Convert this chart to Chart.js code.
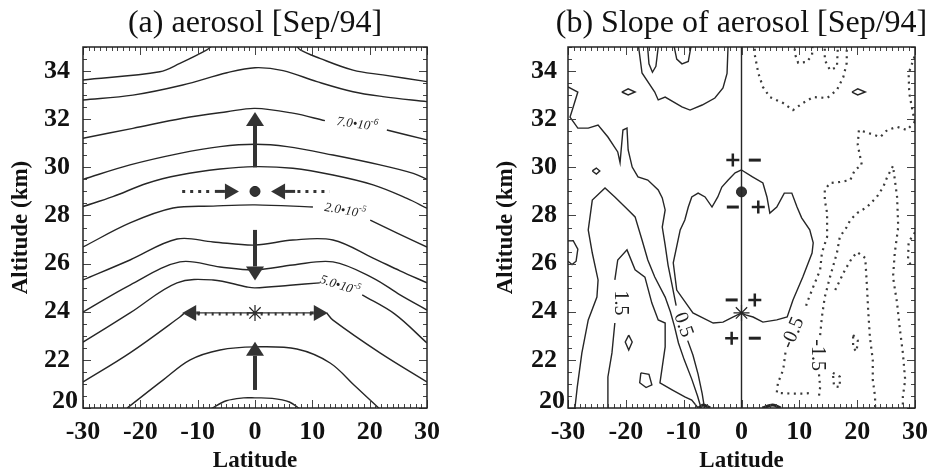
<!DOCTYPE html>
<html>
<head>
<meta charset="utf-8">
<script src="https://cdn.jsdelivr.net/npm/chart.js@4.4.1/dist/chart.umd.min.js"></script>
<style>
  html, body { margin: 0; padding: 0; background: #fff; }
  #wrap { position: relative; width: 933px; height: 475px; overflow: hidden; }
  canvas { position: absolute; top: 0; }
  #ca { left: 0; }
  #cb { left: 466px; }
</style>
</head>
<body>
<div id="wrap">
  <canvas id="ca" width="466" height="475"></canvas>
  <canvas id="cb" width="467" height="475"></canvas>
</div>
<script>
const SERIF = '"Liberation Serif", "Times New Roman", serif';

// axis ticks
const latTicks = [-30, -20, -10, 0, 10, 20, 30];
const altTicks = [20, 22, 24, 26, 28, 30, 32, 34];

// ---- panel (a): aerosol contours [lat, alt] ----
const aC1 = [[-30,33.63],[-16.6,33.97],[-13.1,34.32],[-8.4,34.88],[-6.5,35.2],[6.5,35.2],[7.9,34.88],[11.3,34.53],[17.1,34.04],[22.3,33.84],[30,33.56]];
const aC2 = [[-30,32.80],[-21.3,33.0],[-12.6,33.42],[-4.9,33.93],[0,34.14],[4.9,34.02],[10.8,33.56],[17.1,33.14],[22.3,32.94],[30,32.73]];
const aC3a = [[-30,31.21],[-21.3,31.62],[-12.6,32.04],[-4.9,32.31],[0,32.45],[6.6,32.25],[12.2,31.94]];
const aC3b = [[23.0,31.55],[30,31.14]];
const aC4 = [[-30,29.5],[-21.8,30.1],[-13.1,30.58],[-6.1,30.86],[0,30.96],[5.6,30.86],[13.6,30.51],[21.8,30.10],[27.6,29.75],[30,29.5]];
const aC5 = [[-30,28.37],[-24.8,28.78],[-18.8,29.34],[-13.1,29.68],[-6.1,29.93],[0,30.03],[6.6,29.96],[13.6,29.68],[20.6,29.27],[26.5,28.71],[30,28.30]];
const aC6a = [[-30,26.69],[-21.8,27.69],[-14.3,28.31],[-7.3,28.39],[0,28.44],[10.1,28.35]];
const aC6b = [[20.1,27.81],[24.8,27.27],[30,26.69]];
const aC7 = [[-30,25.32],[-21.8,26.15],[-13.6,27.02],[-7.3,26.90],[0,26.77],[6.6,26.98],[13.6,26.98],[20.6,26.23],[25.3,25.7],[30,25.20]];
const aC8 = [[-30,23.99],[-21.8,25.11],[-13.1,26.07],[-6.1,25.86],[0,25.74],[6.6,25.94],[13.6,26.07],[20.6,25.40],[25.3,24.70],[30,24.07]];
const aC9a = [[-30,22.74],[-21.8,23.95],[-13.6,25.20],[-7.3,25.32],[-1.4,25.03],[0,24.99],[6.1,25.1],[11.3,25.2]];
const aC9b = [[18.7,24.7],[24.4,23.9],[30,22.70]];
const aC10a = [[-30,21.08],[-21.8,22.29],[-13.1,23.78],[-12.3,23.95]];
const aC10b = [[12.5,23.95],[13.6,23.65],[21.8,22.29],[30,21.08]];
const aC11 = [[-22.3,20.0],[-16.0,21.17],[-11.3,22.0],[-6.1,22.41],[0,22.54],[7.3,22.45],[13.1,21.87],[17.5,20.9],[21.8,19.95]];
const aC12 = [[-7.8,19.95],[-5,20.3],[-2,20.42],[0,20.42],[3,20.4],[6,20.25],[7.9,19.95]];

// arrows [lat0, alt0, lat1(tip), alt1(tip)]
const aArrowsV = [[0,30.0,0,32.3],[0,27.4,0,25.3],[0,20.75,0,22.75]];
const aArrowsH = [[-7,29,-2.8,29],[7,29,2.8,29],[-9.6,23.95,-12.7,23.95],[9.6,23.95,12.7,23.95]];
const aDots = [[-12.7,29,-7.4,29],[7.4,29,13,29]];
const aShaft = [[-10,23.95,10,23.95]];
const aDot = [[0,29]];
const aStar = [[0,23.95]];

// ---- panel (b): slope of aerosol contours ----
const bTopU = [[-17.9,35.2],[-17.2,33.92],[-15.0,33.13],[-14.4,32.80],[-13.2,32.92],[-10.3,32.51],[-8.9,32.38],[-6.8,32.59],[-4.6,32.88],[-3.2,33.3],[-2.5,33.9],[-2.3,35.2]];
const bLoop1 = [[-16.3,35.2],[-16.0,34.3],[-15.4,33.95],[-14.8,34.2],[-14.3,35.2]];
const bLoop2 = [[-11.8,35.2],[-11.2,34.5],[-10.3,34.3],[-9.2,34.4],[-8.6,35.2]];
const bEll1 = [[-20.7,33.13],[-19.6,33.26],[-18.4,33.13],[-19.6,33.01],[-20.7,33.13]];
const bEll2 = [[19.1,33.13],[20.1,33.26],[21.4,33.13],[20.1,33.01],[19.1,33.13]];
const bEll3 = [[-25.8,29.85],[-25.1,29.97],[-24.5,29.85],[-25.1,29.72],[-25.8,29.85]];
const bEdgeLoop = [[-30,26.95],[-29.1,26.95],[-28.3,26.6],[-28.6,26.1],[-29.3,25.96],[-30,26.1]];
const bDiamond = [[-19.5,23.03],[-18.9,22.74],[-19.5,22.41],[-20.1,22.74],[-19.5,23.03]];
const bTri = [[-17.4,21.46],[-16.0,21.4],[-15.5,20.96],[-16.5,20.85],[-17.6,21.05],[-17.4,21.46]];
const bLong1 = [[-30,33.34],[-28.3,33.13],[-29.1,32.51],[-29.65,32.09],[-28.3,31.63],[-26.5,31.63],[-24.8,31.76],[-23.1,31.26],[-21.4,30.64],[-21.0,30.2],[-20.5,31.55],[-19.8,31.63],[-19.6,30.72],[-18.9,30.01],[-17.9,29.6],[-16.2,29.47],[-14.4,29.06],[-13.7,28.73],[-13.2,28.23],[-13.7,27.52],[-13.2,26.77],[-12.7,25.94],[-12.0,25.11],[-11.5,24.49],[-11.3,24.25]];
const bLong2 = [[-9.3,22.8],[-8.4,22.2],[-7.5,21.4],[-6.8,20.6],[-6.4,20.0]];
const bInvU = [[-28.8,20.0],[-28.4,20.87],[-27.6,22.29],[-26.5,23.66],[-25.0,24.61],[-24.8,25.32],[-25.8,26.44],[-26.5,27.4],[-25.8,28.64],[-23.6,29.14],[-21.9,28.77],[-19.6,28.23],[-18.4,27.94],[-17.2,26.98],[-16.2,26.15],[-15.0,25.44],[-13.2,24.61],[-12.3,24.0],[-11.6,23.4],[-10.9,22.7],[-9.9,22.0],[-8.6,21.2],[-7.6,20.5],[-7.0,20.0]];
const bSpikeA = [[-23.1,20.0],[-23.1,21.29],[-22.4,22.29],[-21.9,23.53]];
const bSpikeB = [[-21.9,25.32],[-21.4,26.15],[-19.8,26.57],[-18.4,25.74],[-16.7,25.44],[-15.5,24.36],[-14.4,23.66],[-13.2,23.53],[-13.2,22.54],[-13.7,21.71],[-14.1,21.04],[-12.0,20.75],[-9.8,20.46],[-8.6,20.33],[-7.5,20.0]];
const bBlob = [[0,29.89],[-1.1,29.77],[-2.3,29.47],[-3.4,29.18],[-4.1,28.77],[-5.1,28.35],[-6.3,28.77],[-7.5,28.93],[-8.6,28.77],[-9.2,28.35],[-9.8,27.81],[-10.6,27.4],[-11.8,26.03],[-11.2,24.90],[-8.4,23.95],[-4.9,23.53],[-3.2,23.57],[-1.5,23.78],[0,23.95],[0.7,23.87],[2.0,23.78],[3.7,23.57],[6.1,23.66],[7.9,23.78],[8.9,24.49],[10.6,25.44],[12.2,26.44],[12.4,26.86],[11.8,27.4],[10.4,27.9],[9.6,28.35],[8.7,28.93],[7.4,28.93],[6.1,28.35],[4.9,28.10],[4.4,28.77],[3.7,29.35],[1.9,29.60],[0,29.89]];
const bZero = [[0,20],[0,35]];
const bBump1 = [[-7.4,20.0],[-6.6,20.12],[-5.4,20.0]];
const bBump2 = [[3.6,20.0],[5.4,20.12],[6.8,20.0]];
// negative (dotted) contours
const bN1 = [[2.3,35.2],[2.3,34.67],[2.9,33.92],[3.7,33.34],[4.9,32.92],[7.2,32.67],[8.9,32.38],[10.6,32.67],[12.4,32.92],[14.8,32.88],[16.5,33.21],[17.6,33.75],[18.2,34.34],[18.2,35.2]];
const bN2 = [[9.1,35.2],[9.3,34.67],[9.8,34.34],[11.3,34.38],[12.2,34.67],[12.3,35.2]];
const bN3 = [[14.4,35.2],[14.4,34.46],[15.3,34.04],[16.5,34.17],[16.7,35.2]];
const bN4 = [[29.9,34.6],[28.9,33.9],[29.0,33.1],[29.6,32.3],[30,31.9]];
const bN5a = [[30,31.9],[28.6,31.55],[26.9,31.68],[25.2,31.55],[24.0,31.26],[21.9,31.43],[20.3,31.55],[20.1,30.93],[20.8,30.1],[19.6,29.89],[18.8,29.47],[17.0,29.39],[15.3,29.35],[14.4,29.06],[14.4,28.64],[14.8,28.10],[14.8,27.11],[13.9,26.44],[13.6,25.74],[12.4,25.03],[11.3,24.36],[11.0,24.07]];
const bN5b = [[7.6,22.3],[7.2,21.58],[6.3,21.04],[6.1,20.63],[8.4,20.6],[10.6,20.6],[12.4,20.63]];
const bN6a = [[13.6,23.03],[13.9,23.78],[14.4,24.61],[15.3,25.44],[16.5,26.44],[17.0,27.11],[18.2,27.52],[18.8,27.81],[20.0,28.10],[21.7,28.35],[23.4,28.77],[24.5,29.18],[25.2,29.6],[26.2,30.06],[26.9,28.77],[27.1,27.52],[26.5,26.44],[26.2,25.44],[26.9,24.36],[27.4,23.24],[27.9,22.29],[28.3,21.17],[27.9,20.46],[27.9,20.0]];
const bN6b = [[13.4,21.4],[13.6,20.87],[13.4,20.5]];
const bN7 = [[16.2,24.9],[17.9,25.74],[19.1,26.23],[20.0,26.48],[21.4,26.23],[21.7,25.03],[21.9,24.07],[22.2,22.95],[22.7,22.0],[22.7,21.17],[23.1,20.46],[23.1,20.0]];
const bN8 = [[30,27.3],[28.9,26.9],[28.8,26.2],[29.5,25.8]];
const bN9 = [[19.3,23.03],[20.1,22.8],[19.9,22.35],[19.3,22.5],[19.3,23.03]];
const bN10 = [[15.8,21.46],[17.0,21.3],[17.0,20.87],[16.0,20.9],[15.8,21.46]];
const bPlus = [[-1.5,30.3],[2.9,28.35],[2.3,24.49],[-1.7,22.9]];
const bMinus = [[2.3,30.3],[-1.5,28.35],[-1.7,24.49],[2.3,22.9]];
const bDot = [[0,28.98]];
const bStar = [[0,23.95]];

// ---- helpers ----
const pts = arr => arr.map(([x, y]) => ({x, y}));
const LINE = '#262626';
function curve(arr, tension) {
  return { data: pts(arr), showLine: true, pointRadius: 0, borderColor: LINE, borderWidth: 1.4, tension: tension, fill: false };
}
function dotted(arr) {
  return { data: pts(arr), showLine: true, pointRadius: 0, borderColor: '#3a3a3a', borderWidth: 2.2, borderDash: [2, 4.5], tension: 0, fill: false };
}
function marker(arr, style, r, bw) {
  return { data: pts(arr), showLine: false, pointStyle: style, pointRadius: r, pointBorderWidth: bw, pointBorderColor: '#222', pointBackgroundColor: '#333' };
}

function arrow(ctx, x0, y0, x1, y1, w, L, H) {
  const dx = x1 - x0, dy = y1 - y0, len = Math.hypot(dx, dy) || 1;
  const ux = dx / len, uy = dy / len;
  const bx = x1 - ux * L, by = y1 - uy * L;
  if (len > L) {
    ctx.lineWidth = w;
    ctx.beginPath(); ctx.moveTo(x0, y0); ctx.lineTo(bx, by); ctx.stroke();
  }
  ctx.beginPath();
  ctx.moveTo(x1, y1);
  ctx.lineTo(bx - uy * H, by + ux * H);
  ctx.lineTo(bx + uy * H, by - ux * H);
  ctx.closePath(); ctx.fill();
}

function extras(o) {
  return {
    id: 'extras',
    afterDatasetsDraw(chart) {
      const {ctx, chartArea: a, scales: {x, y}} = chart;
      const X = v => x.getPixelForValue(v), Y = v => y.getPixelForValue(v);
      ctx.save();
      ctx.fillStyle = '#333'; ctx.strokeStyle = '#333'; ctx.lineCap = 'butt';

      (o.dots || []).forEach(([x0, y0, x1, y1]) => {
        ctx.lineWidth = 3; ctx.setLineDash([3, 5]);
        ctx.beginPath(); ctx.moveTo(X(x0), Y(y0)); ctx.lineTo(X(x1), Y(y1)); ctx.stroke();
      });
      (o.shaft || []).forEach(([x0, y0, x1, y1]) => {
        ctx.setLineDash([]); ctx.lineWidth = 1.2;
        ctx.beginPath(); ctx.moveTo(X(x0), Y(y0)); ctx.lineTo(X(x1), Y(y1)); ctx.stroke();
        ctx.setLineDash([2, 5]); ctx.lineWidth = 3;
        ctx.beginPath(); ctx.moveTo(X(x0), Y(y0) + 1); ctx.lineTo(X(x1), Y(y1) + 1); ctx.stroke();
      });
      ctx.setLineDash([]);
      (o.arrowsV || []).forEach(([x0, y0, x1, y1]) => arrow(ctx, X(x0), Y(y0), X(x1), Y(y1), 4, 14, 9));
      (o.arrowsH || []).forEach(([x0, y0, x1, y1]) => arrow(ctx, X(x0), Y(y0), X(x1), Y(y1), 3, 14, 8));

      // contour labels
      ctx.fillStyle = '#222';
      (o.supLabels || []).forEach(l => {
        ctx.save();
        ctx.translate(X(l.at[0]), Y(l.at[1]));
        ctx.rotate(l.rot * Math.PI / 180);
        ctx.font = `italic 13px ${SERIF}`;
        ctx.textBaseline = 'middle'; ctx.textAlign = 'left';
        const w1 = ctx.measureText(l.text).width;
        ctx.font = `italic 9px ${SERIF}`;
        const w2 = ctx.measureText(l.sup).width;
        const sx = -(w1 + w2) / 2;
        ctx.font = `italic 13px ${SERIF}`;
        ctx.fillText(l.text, sx, 0);
        ctx.font = `italic 9px ${SERIF}`;
        ctx.fillText(l.sup, sx + w1, -5);
        ctx.restore();
      });
      (o.labels || []).forEach(l => {
        ctx.save();
        ctx.translate(X(l.at[0]), Y(l.at[1]));
        ctx.rotate(l.rot * Math.PI / 180);
        ctx.font = `20px ${SERIF}`;
        ctx.textBaseline = 'middle'; ctx.textAlign = 'center';
        ctx.fillText(l.text, 0, 0);
        ctx.restore();
      });

      // frame with inward ticks
      ctx.strokeStyle = '#444'; ctx.lineWidth = 1;
      ctx.beginPath();
      for (let v = -30; v <= 30; v += 1) {
        const px = Math.round(X(v)) + 0.5, L = v % 10 === 0 ? 8 : 4;
        ctx.moveTo(px, a.bottom); ctx.lineTo(px, a.bottom - L);
        ctx.moveTo(px, a.top); ctx.lineTo(px, a.top + L);
      }
      for (let v = 20; v <= 35; v += 0.5) {
        const py = Math.round(Y(v)) + 0.5, L = v % 2 === 0 ? 8 : 4;
        ctx.moveTo(a.left, py); ctx.lineTo(a.left + L, py);
        ctx.moveTo(a.right, py); ctx.lineTo(a.right - L, py);
      }
      ctx.stroke();
      ctx.strokeStyle = '#222'; ctx.lineWidth = 1.5;
      ctx.strokeRect(a.left, a.top, a.right - a.left, a.bottom - a.top);

      // title and the lifted "20" tick label
      ctx.fillStyle = '#111';
      ctx.font = `32px ${SERIF}`; ctx.textAlign = 'center'; ctx.textBaseline = 'middle';
      ctx.fillText(o.title, (a.left + a.right) / 2, 24);
      ctx.font = `bold 26px ${SERIF}`; ctx.textAlign = 'right';
      ctx.fillText('20', a.left - o.yTickPad, Y(20) - 7);
      ctx.restore();
    }
  };
}

function makeScales(yWidth, yTitlePad, yTickPad) {
  return {
    x: {
      type: 'linear', min: -30, max: 30,
      afterBuildTicks: s => { s.ticks = latTicks.map(v => ({value: v})); },
      ticks: { font: {family: SERIF, size: 26, weight: 'bold'}, color: '#111', padding: 0, maxRotation: 0, autoSkip: false, callback: v => String(v) },
      grid: { display: true, drawOnChartArea: false, drawTicks: true, tickLength: 9, color: 'rgba(0,0,0,0)' },
      border: { display: false },
      title: { display: true, text: 'Latitude', color: '#111', font: {family: SERIF, size: 23, weight: 'bold'}, padding: {top: 0, bottom: 0} },
      afterFit: s => { s.height = 67; }
    },
    y: {
      type: 'linear', min: 20, max: 35,
      afterBuildTicks: s => { s.ticks = altTicks.map(v => ({value: v})); },
      ticks: { font: {family: SERIF, size: 26, weight: 'bold'}, color: '#111', padding: yTickPad, autoSkip: false, callback: v => (v === 20 ? '' : String(v)) },
      grid: { display: false },
      border: { display: false },
      title: { display: true, text: 'Altitude (km)', color: '#111', font: {family: SERIF, size: 23, weight: 'bold'}, padding: {top: yTitlePad, bottom: 0} },
      afterFit: s => { s.width = yWidth; }
    }
  };
}

function baseOptions(rightPad, yWidth, yTitlePad, yTickPad) {
  return {
    responsive: false, animation: false, events: [],
    layout: { padding: {top: 47, right: rightPad, bottom: 0, left: 0} },
    plugins: { legend: {display: false}, tooltip: {enabled: false}, title: {display: false} },
    scales: makeScales(yWidth, yTitlePad, yTickPad)
  };
}

// ---- chart (a) ----
const aLines = [aC1, aC2, aC3a, aC3b, aC4, aC5, aC6a, aC6b, aC7, aC8, aC9a, aC9b, aC10a, aC10b, aC11, aC12];
new Chart(document.getElementById('ca'), {
  type: 'scatter',
  data: {
    datasets: aLines.map(l => curve(l, 0.35)).concat([
      marker(aDot, 'circle', 5, 1),
      marker(aStar, 'star', 8, 1.2)
    ])
  },
  options: baseOptions(39, 83, 7, 5),
  plugins: [extras({
    title: '(a) aerosol [Sep/94]', yTickPad: 5,
    arrowsV: aArrowsV, arrowsH: aArrowsH, dots: aDots, shaft: aShaft,
    supLabels: [
      {text: '7.0•10', sup: '-6', at: [17.8, 31.78], rot: 8},
      {text: '2.0•10', sup: '-5', at: [15.7, 28.19], rot: 10},
      {text: '5.0•10', sup: '-5', at: [14.8, 25.08], rot: 18}
    ]
  })]
});

// ---- chart (b) ----
const bSolid = [bTopU, bLoop1, bLoop2, bEll1, bEll2, bEll3, bEdgeLoop, bDiamond, bTri, bLong1, bLong2, bInvU, bSpikeA, bSpikeB, bBlob, bZero];
const bNeg = [bN1, bN2, bN3, bN4, bN5a, bN5b, bN6a, bN6b, bN7, bN8, bN9, bN10];
const bumps = [bBump1, bBump2].map(b => Object.assign(curve(b, 0.3), {borderWidth: 3}));
new Chart(document.getElementById('cb'), {
  type: 'scatter',
  data: {
    datasets: bSolid.map(l => curve(l, 0)).concat(bNeg.map(dotted), bumps, [
      marker(bPlus, 'cross', 6.5, 2.5),
      marker(bMinus, 'line', 6, 3),
      marker(bDot, 'circle', 5, 1),
      marker(bStar, 'star', 8, 1.2)
    ])
  },
  options: baseOptions(18, 102, 26, 3),
  plugins: [extras({
    title: '(b) Slope of aerosol [Sep/94]', yTickPad: 3,
    labels: [
      {text: '1.5', at: [-21.0, 24.36], rot: 90},
      {text: '0.5', at: [-10.1, 23.45], rot: 70},
      {text: '-0.5', at: [8.9, 23.12], rot: -67},
      {text: '-1.5', at: [13.1, 22.2], rot: 90}
    ]
  })]
});
</script>
</body>
</html>
